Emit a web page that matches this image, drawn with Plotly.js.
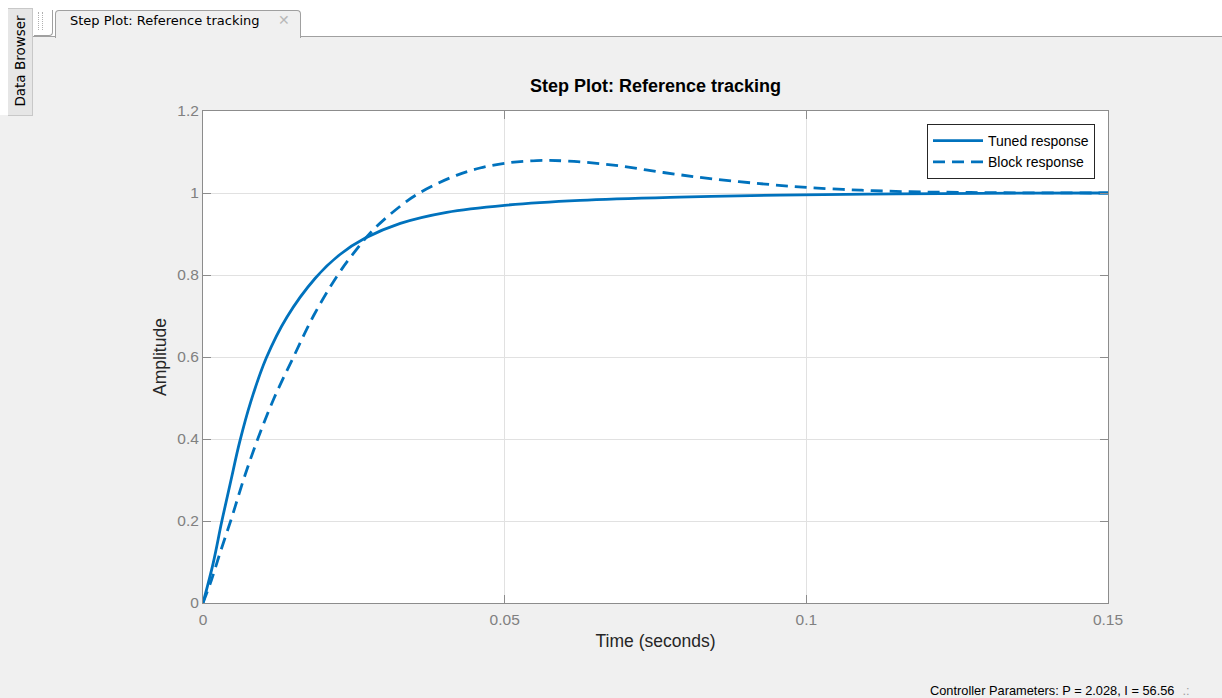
<!DOCTYPE html>
<html>
<head>
<meta charset="utf-8">
<script src="https://cdn.plot.ly/plotly-3.0.1.min.js"></script>
<style>
  html, body { margin:0; padding:0; background:#f0f0f0; width:1222px; height:698px; overflow:hidden; }
  .abs { position:absolute; }
  #plot { position:absolute; left:0; top:0; width:1222px; height:698px; z-index:2; }
  .chrome { z-index:1; }
  .txt { font-family:"DejaVu Sans", "Noto Sans", sans-serif; color:#000; }
</style>
</head>
<body>
<!-- window chrome -->
<div class="abs chrome" style="left:0;top:0;width:1222px;height:10px;background:#ffffff;"></div>
<div class="abs chrome" style="left:0;top:0;width:8px;height:115px;background:#ffffff;"></div>
<div class="abs chrome" style="left:33px;top:10px;width:1189px;height:26px;background:#ffffff;border-bottom:1px solid #a0a0a0;"></div>
<div class="abs chrome" style="left:8px;top:8px;width:24px;height:106px;background:#e6e6e6;border:1px solid #c8c8c8;border-left:none;"></div>
<div class="abs chrome txt" style="left:8px;top:8px;width:24px;height:106px;display:flex;align-items:center;justify-content:center;">
  <div style="transform:rotate(-90deg);white-space:nowrap;font-size:13.5px;">Data Browser</div>
</div>
<div class="abs chrome" style="left:34px;top:10px;width:18px;height:25px;border-right:1px solid #a0a0a0;border-bottom:1px solid #a0a0a0;border-bottom-right-radius:4px;background:#ffffff;"></div>
<div class="abs chrome" style="left:38px;top:12px;width:3px;height:18px;border-left:1px dotted #b0b0b0;border-right:1px dotted #b0b0b0;"></div>
<div class="abs chrome" style="left:55px;top:10px;width:244px;height:27px;background:#f0f0f0;border:1px solid #a0a0a0;border-bottom:none;border-top-left-radius:4px;border-top-right-radius:4px;"></div>
<div class="abs chrome txt" style="left:70px;top:13px;font-size:13px;white-space:nowrap;">Step Plot: Reference tracking</div>
<div class="abs chrome txt" style="left:278px;top:12px;font-size:14px;color:#b8b8b8;">✕</div>
<div class="abs chrome" style="left:930px;top:683px;font-family:'Liberation Sans', Arial, sans-serif;font-size:12.8px;white-space:nowrap;color:#000;">Controller Parameters: P = 2.028, I = 56.56<span style="color:#a0a0a0;margin-left:8px;">.:</span></div>

<div id="plot"></div>
<script>
// Tuned response (solid)
const tunedTime = [0, 0.0017, 0.0031, 0.0046, 0.0061, 0.0079, 0.0105, 0.0139, 0.0186, 0.0227, 0.0269, 0.0327, 0.0404, 0.05, 0.0625, 0.079, 0.0956, 0.115, 0.135, 0.15];
const tunedAmp  = [0, 0.098, 0.198, 0.297, 0.394, 0.490, 0.598, 0.697, 0.792, 0.850, 0.890, 0.926, 0.953, 0.970, 0.982, 0.990, 0.995, 0.998, 0.9995, 1.0];

// Block response (dashed)
const blockTime = [0, 0.0014, 0.0028, 0.0048, 0.0067, 0.0089, 0.0117, 0.015, 0.0183, 0.0222, 0.0249, 0.0282, 0.0327, 0.0354, 0.0387, 0.042, 0.0459, 0.0503, 0.0553, 0.0603, 0.068, 0.0763, 0.0846, 0.0945, 0.1006, 0.1089, 0.1172, 0.1255, 0.135, 0.15];
const blockAmp  = [0, 0.056, 0.121, 0.21, 0.30, 0.393, 0.497, 0.60, 0.70, 0.797, 0.852, 0.91, 0.968, 0.996, 1.022, 1.043, 1.061, 1.073, 1.079, 1.078, 1.068, 1.050, 1.034, 1.020, 1.013, 1.007, 1.003, 1.0015, 1.0005, 1.0];

const xTicks = [0, 0.05, 0.1, 0.15];
const xTickText = ['0', '0.05', '0.1', '0.15'];
const yTicks = [0, 0.2, 0.4, 0.6, 0.8, 1, 1.2];
const yTickText = ['0', '0.2', '0.4', '0.6', '0.8', '1', '1.2'];

const seriesNames = ['Tuned response', 'Block response'];
const lineColor = '#0072BD';

const traces = [
  { x: tunedTime, y: tunedAmp, name: seriesNames[0], mode: 'lines', type: 'scatter',
    line: { color: lineColor, width: 2.8, shape: 'spline', smoothing: 1.0 } },
  { x: blockTime, y: blockAmp, name: seriesNames[1], mode: 'lines', type: 'scatter',
    line: { color: lineColor, width: 2.8, dash: '12px,7px', shape: 'spline', smoothing: 1.0 } }
];

const FONT = 'Liberation Sans, Arial, Helvetica, sans-serif';
const axisCommon = {
  showline: true, linecolor: '#8c8c8c', linewidth: 1, mirror: 'ticks',
  ticks: 'inside', ticklen: 8, tickcolor: '#8c8c8c', tickwidth: 1,
  showgrid: true, gridcolor: '#e1e1e1', gridwidth: 1,
  zeroline: false, fixedrange: true,
  tickfont: { family: FONT, size: 15.5, color: '#808080' }
};

const layout = {
  width: 1222, height: 698,
  margin: { l: 203, r: 114, t: 111, b: 95, pad: 0 },
  paper_bgcolor: 'rgba(0,0,0,0)',
  plot_bgcolor: '#ffffff',
  title: { text: '<b>Step Plot: Reference tracking</b>', x: 0.5, xref: 'paper', xanchor: 'center',
           y: 1 - 86/698, yref: 'container', yanchor: 'middle',
           font: { family: FONT, size: 18, color: '#000000' } },
  xaxis: Object.assign({}, axisCommon, {
    range: [0, 0.15], tickvals: xTicks, ticktext: xTickText, ticklabelstandoff: 2,
    title: { text: 'Time (seconds)', standoff: 8,
             font: { family: FONT, size: 17.5, color: '#262626' } }
  }),
  yaxis: Object.assign({}, axisCommon, {
    range: [0, 1.2], tickvals: yTicks, ticktext: yTickText, ticklabelstandoff: 0,
    title: { text: 'Amplitude', standoff: 6,
             font: { family: FONT, size: 17.5, color: '#262626' } }
  }),
  showlegend: true,
  legend: {
    x: (1095 - 203) / 905, xanchor: 'right', y: (603 - 124) / 492, yanchor: 'top',
    bgcolor: '#ffffff', bordercolor: '#262626', borderwidth: 1,
    font: { family: FONT, size: 14, color: '#000000' },
    itemwidth: 50, tracegroupgap: 0, traceorder: 'normal'
  }
};

Plotly.newPlot('plot', traces, layout, { displayModeBar: false, staticPlot: true });
</script>
</body>
</html>
